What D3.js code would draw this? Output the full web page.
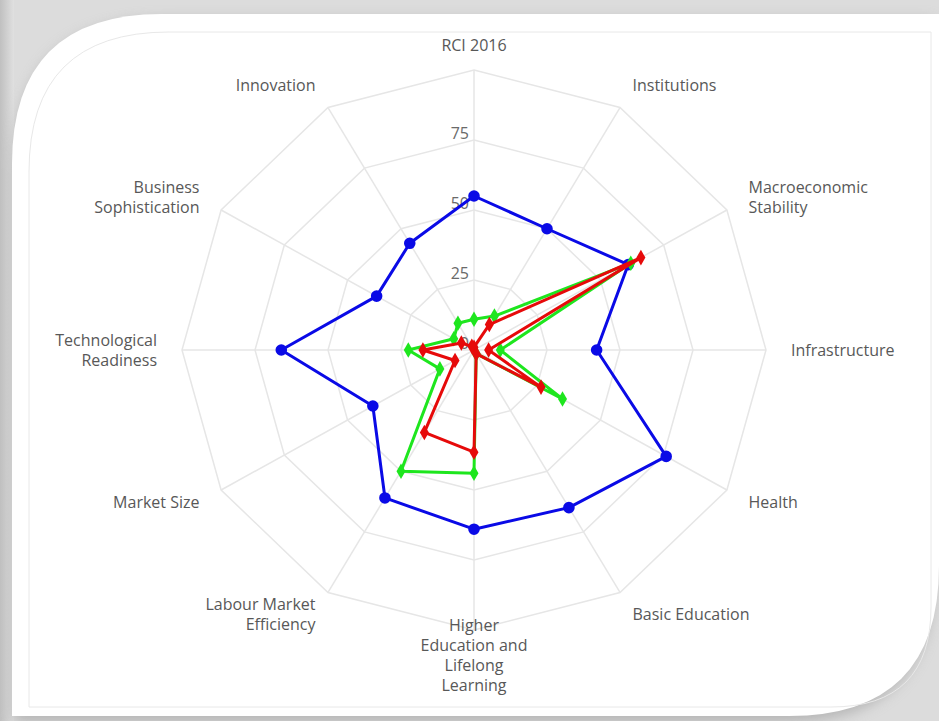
<!DOCTYPE html>
<html>
<head>
<meta charset="utf-8">
<script src="https://cdn.jsdelivr.net/npm/d3@7"></script>
<style>
  body { margin: 0; background: #dedede; }
  svg { display: block; }
</style>
</head>
<body>
<svg id="canvas"></svg>
<script>
// axis names, clockwise from the top
const categories = ["RCI 2016", "Institutions", "Macroeconomic\nStability", "Infrastructure",
  "Health", "Basic Education", "Higher\nEducation and\nLifelong\nLearning",
  "Labour Market\nEfficiency", "Market Size", "Technological\nReadiness",
  "Business\nSophistication", "Innovation"];

const blueValues  = [55, 50, 61, 42, 76, 65, 64, 61, 40, 66, 38.5, 44];
const greenValues = [11, 14, 62, 9, 35, 1.5, 44, 50, 13.5, 22.5, 8, 11];
const redValues   = [1, 10.5, 66, 5, 26.5, 1.5, 36.5, 34, 7.5, 17.5, 5, 1.5];

const gridLevels = [0, 25, 50, 75, 100];
const tickLabels = [0, 25, 50, 75];

const width = 939;
const height = 721;
const cx = 474;
const cy = 350;

let canvas = d3.select('#canvas').attr('width', width).attr('height', height);

// the picture is a little wider than tall, so radius differs on x and y
const rx = d3.scaleLinear().domain([0, 100]).range([0, 292]);
const ry = d3.scaleLinear().domain([0, 100]).range([0, 280]);
const angle = d3.scaleLinear().domain([0, categories.length]).range([0, 2 * Math.PI]);

const px = (i, v) => cx + rx(v) * Math.sin(angle(i));
const py = (i, v) => cy - ry(v) * Math.cos(angle(i));

const drawFrame = () => {
  let defs = canvas.append('defs');
  let g = defs.append('linearGradient').attr('id', 'leftShade');
  g.append('stop').attr('offset', '0%').attr('stop-color', '#c0c0c0');
  g.append('stop').attr('offset', '100%').attr('stop-color', '#e0e0e0');
  defs.append('filter').attr('id', 'blur')
    .append('feGaussianBlur').attr('stdDeviation', 7);

  canvas.append('rect').attr('width', width).attr('height', height).attr('fill', '#dcdcdc');
  canvas.append('rect').attr('width', 14).attr('height', height).attr('fill', 'url(#leftShade)');

  const card = (x0, y0, x1, y1, r1, r2) =>
    `M${x0},${y0 + r1} Q${x0},${y0} ${x0 + r1},${y0} L${x1},${y0} L${x1},${y1 - r2} ` +
    `Q${x1},${y1} ${x1 - r2},${y1} L${x0},${y1} Z`;

  canvas.append('path').attr('d', card(14, 20, 934, 722, 150, 150))
    .attr('fill', '#999').attr('filter', 'url(#blur)').attr('opacity', 0.6);
  canvas.append('path').attr('d', card(12, 14, 939, 716, 150, 150)).attr('fill', '#ffffff');
  canvas.append('path').attr('d', card(29, 32, 931, 707, 140, 100))
    .attr('fill', 'none').attr('stroke', '#e8e8e8').attr('stroke-width', 1);
};

const drawGrid = () => {
  let grid = canvas.append('g');
  gridLevels.filter(l => l > 0).forEach(l => {
    grid.append('path')
      .attr('d', d3.line().curve(d3.curveLinearClosed)(categories.map((c, i) => [px(i, l), py(i, l)])))
      .attr('fill', 'none').attr('stroke', '#e6e6e6').attr('stroke-width', 1.5);
  });
  categories.forEach((c, i) => {
    grid.append('line')
      .attr('x1', cx).attr('y1', cy)
      .attr('x2', px(i, 100)).attr('y2', py(i, 100))
      .attr('stroke', '#e6e6e6').attr('stroke-width', 1.5);
  });

  canvas.append('g').selectAll('text')
    .data(tickLabels).enter().append('text')
    .attr('x', cx - 5)
    .attr('y', v => py(0, v) - 1.5)
    .attr('text-anchor', 'end')
    .attr('font-family', '"Open Sans", sans-serif')
    .attr('font-size', 16)
    .attr('fill', '#6a6a6a')
    .text(v => v);
};

const drawLabels = () => {
  categories.forEach((c, i) => {
    const x = px(i, 100) + 25 * Math.sin(angle(i));
    const y = py(i, 100) - 25 * Math.cos(angle(i));
    const s = Math.sin(angle(i));
    const anchor = Math.abs(s) < 0.01 ? 'middle' : (s > 0 ? 'start' : 'end');
    const lines = c.split('\n');
    let t = canvas.append('text')
      .attr('text-anchor', anchor)
      .attr('font-family', '"Open Sans", sans-serif')
      .attr('font-size', 16)
      .attr('fill', '#585858');
    lines.forEach((ln, k) => {
      t.append('tspan').attr('x', x)
        .attr('y', y + 5.5 + (k - (lines.length - 1) / 2) * 20)
        .text(ln);
    });
  });
};

const drawSeries = (values, color, marker) => {
  let pts = values.map((v, i) => [px(i, v), py(i, v)]);
  let g = canvas.append('g');
  g.append('path')
    .attr('d', d3.line().curve(d3.curveLinearClosed)(pts))
    .attr('fill', 'none').attr('stroke', color).attr('stroke-width', 3)
    .attr('stroke-linejoin', 'round');
  g.selectAll('path.marker')
    .data(pts).enter().append('path')
    .attr('class', 'marker')
    .attr('transform', p => 'translate(' + p[0] + ',' + p[1] + ')')
    .attr('d', d3.symbol().type(marker).size(marker === d3.symbolCircle ? 105 : 70))
    .attr('fill', color);
};

drawFrame();
drawGrid();
drawLabels();
drawSeries(blueValues, '#0a0ae6', d3.symbolCircle);
drawSeries(greenValues, '#1ee61e', d3.symbolDiamond);
drawSeries(redValues, '#e60a0a', d3.symbolDiamond);
</script>
</body>
</html>
